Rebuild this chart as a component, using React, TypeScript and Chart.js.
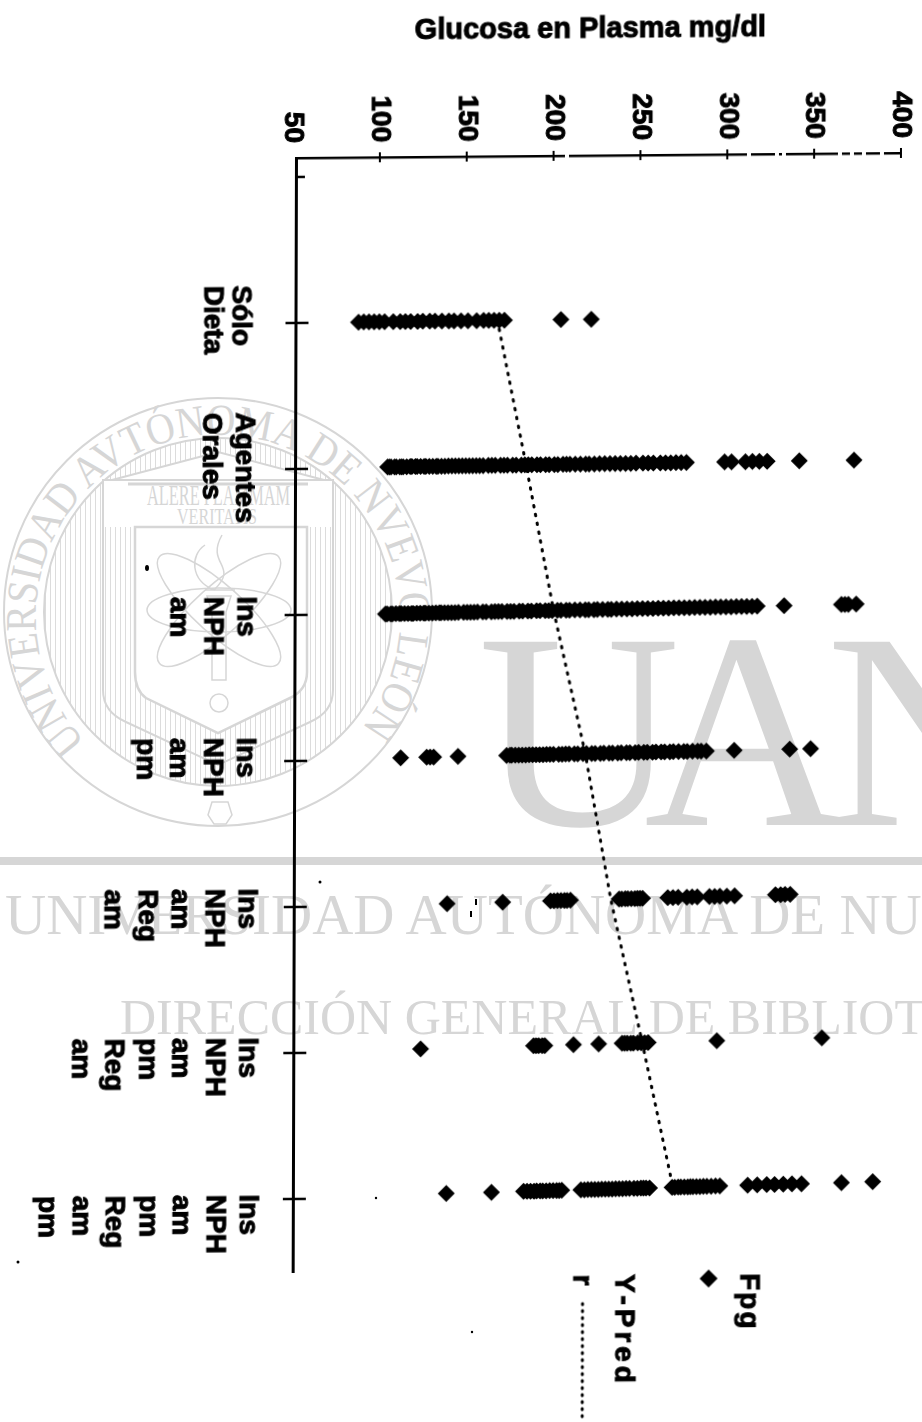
import React, { useEffect, useRef } from "react";
import { Chart, registerables } from "chart.js";

Chart.register(...registerables);

const chartTitle = "Glucosa en Plasma mg/dl";
const xTickValues = [50, 100, 150, 200, 250, 300, 350, 400];
const yTickRows = [-1, 0, 1, 2, 3, 4, 5, 6];

const categories = [
  ["Sólo", "Dieta"],
  ["Agentes", "Orales"],
  ["Ins", "NPH", "am"],
  ["Ins", "NPH", "am", "pm"],
  ["Ins", "NPH", "am", "Reg", "am"],
  ["Ins", "NPH", "am", "pm", "Reg", "am"],
  ["Ins", "NPH", "am", "pm", "Reg", "am", "pm"],
];

const soloDieta = [88, 91, 94, 97, 100, 103, 108, 112, 115, 118, 122, 125, 129, 132, 136, 140, 143, 147, 151, 156, 160, 163, 166, 169, 172, 204.5, 222];
const agentesOrales = [105, 106, 107, 109, 110, 112, 113, 114, 116, 118, 119, 121, 122, 124, 126, 127, 129, 131, 133, 134, 136, 138, 140, 142, 144, 146, 148, 150, 152, 154, 156, 158, 160, 163, 165, 167, 170, 172, 174, 177, 179, 182, 184, 186, 188, 191, 193, 196, 198, 201, 203, 206, 208, 210, 213, 216, 219, 221, 224, 227, 230, 233, 236, 239, 242, 245, 248, 252, 255, 258, 262, 265, 268, 271, 274, 277, 299, 303, 311, 315, 319, 323.5, 342, 373.5];
const nphAm = [104, 105, 107, 108, 110, 112, 113, 115, 117, 119, 120, 122, 124, 126, 127, 129, 131, 133, 135, 136, 138, 140, 142, 144, 146, 149, 151, 153, 155, 157, 160, 162, 165, 167, 169, 171, 174, 176, 178, 181, 183, 186, 188, 191, 193, 196, 198, 200, 203, 205, 208, 210, 213, 216, 219, 221, 224, 226, 229, 232, 234, 237, 240, 243, 246, 249, 252, 255, 258, 261, 264, 267, 270, 273, 276, 279, 282, 285, 288, 291, 294, 297, 300, 303, 306, 309, 312, 315, 318, 333.5, 366.5, 368.5, 370.5, 375];
const nphAmPm = [113, 128, 130, 132, 146, 174, 176, 177, 179, 181, 183, 185, 187, 189, 191, 193, 195, 197, 199, 201, 204, 206, 208, 210, 213, 215, 218, 220, 223, 225, 228, 230, 233, 235, 238, 240, 243, 245, 248, 250, 253, 255, 258, 260, 263, 265, 268, 270, 273, 276, 278, 281, 284, 286, 289, 305, 337, 349];
const nphAmReg = [140, 172, 199.5, 201.5, 203.5, 205.5, 207.5, 209, 211, 239, 240.5, 242.5, 244, 246, 248, 249.5, 251, 252.5, 267, 270, 273, 278, 281, 284, 291, 294, 297, 301, 305.5, 329, 332, 334.5, 337.5];
const nphAmPmReg = [125, 190, 191.5, 193, 195, 196.5, 213, 227.5, 241, 242.5, 244, 246, 247.5, 250, 252, 254, 256, 295.5, 356];
const nphDoble = [140, 166, 184.5, 186.5, 188.5, 190.5, 192, 194, 195.5, 197.5, 199.5, 201.5, 203.5, 205, 206.5, 217.5, 219.5, 221.5, 223.5, 225.5, 227.5, 229.5, 231.5, 233.5, 235.5, 237.5, 239.5, 241.5, 243.5, 245.5, 248, 250, 252, 253.5, 255, 257, 270, 271.5, 273.5, 275, 277, 279, 280.5, 282, 284, 286, 288, 290, 292.5, 295, 297.5, 313.5, 319, 324.5, 329, 334, 339, 344.5, 367.5, 385.5];
const pointRows = [soloDieta, agentesOrales, nphAm, nphAmPm, nphAmReg, nphAmPmReg, nphDoble];

const yPred = [168, 184.7, 200.8, 219.3, 234.2, 252.6, 270.5];

// The scan is tilted: how far each row has drifted upward, read at 100 and at 380 mg/dl.
const rowDriftAt100 = [-0.003, -0.008, -0.001, -0.014, -0.005, -0.014, -0.019];
const rowDriftAt380 = [-0.017, -0.03, -0.043, -0.06, -0.068, -0.08, -0.084];
const labelStartOffset = [-38, -57, -19, -24, -19, -16, -5];
const labelFirstColumn = [241, 245, 247, 247, 249, 250, 251];
const labelColumnGap = [28, 33, 33.5, 33.5, 33.5, 33.5, 33.5];
const axisBreaks = [565, 747, 775, 782, 838, 850, 862, 880];

const legendPoint = "Fpg";
const legendLine = "Y-Pred";
const legendExtra = "r";

const place = (row: number, v: number) =>
  row + rowDriftAt100[row] + ((rowDriftAt380[row] - rowDriftAt100[row]) * (v - 100)) / 280;

const FONT = '"Liberation Sans", Arial, sans-serif';

const textPlugin = {
  id: "scanText",
  afterDraw(chart: any) {
    const { ctx, scales } = chart;
    const x = scales.x;
    const y = scales.y;
    const axisY = chart.chartArea.top;
    const axisX = chart.chartArea.left;
    ctx.save();
    ctx.fillStyle = "#000";
    ctx.strokeStyle = "#000";
    ctx.textBaseline = "middle";

    const heavy = (s: string, tx: number, ty: number) => {
      ctx.lineWidth = 1;
      ctx.strokeText(s, tx, ty);
      ctx.fillText(s, tx, ty);
    };

    // the broken stretches of the scanned value axis
    axisBreaks.forEach((b) => ctx.clearRect(b, axisY - 2, 4, 4));

    // value axis ticks and labels (turned a quarter clockwise)
    xTickValues.forEach((v, i) => {
      const px = x.getPixelForValue(v);
      if (i > 0) {
        ctx.lineWidth = 2;
        ctx.beginPath();
        ctx.moveTo(px, axisY - 5);
        ctx.lineTo(px, axisY + 5);
        ctx.stroke();
      }
      ctx.save();
      ctx.translate(px, 143);
      ctx.rotate(Math.PI / 2);
      ctx.textAlign = "right";
      ctx.font = `bold 28px ${FONT}`;
      heavy(String(v), 0, 0);
      ctx.restore();
    });

    // row ticks
    yTickRows.forEach((r) => {
      const py = y.getPixelForValue(r);
      ctx.lineWidth = 2.5;
      ctx.beginPath();
      ctx.moveTo(r < 0 ? axisX : axisX - 10, py);
      ctx.lineTo(axisX + (r < 0 ? 9 : 13), py);
      ctx.stroke();
    });

    // row labels
    categories.forEach((lines, r) => {
      const py = y.getPixelForValue(r) + labelStartOffset[r];
      lines.forEach((line, k) => {
        ctx.save();
        ctx.translate(labelFirstColumn[r] - labelColumnGap[r] * k, py);
        ctx.rotate(Math.PI / 2);
        ctx.textAlign = "left";
        ctx.font = `bold 28px ${FONT}`;
        heavy(line, 0, 0);
        ctx.restore();
      });
    });

    // title
    ctx.textAlign = "center";
    ctx.font = `bold 29px ${FONT}`;
    heavy(chartTitle, 590, 32);

    // legend
    const turned = (s: string, tx: number, ty: number, spacing: string) => {
      ctx.save();
      ctx.translate(tx, ty);
      ctx.rotate(Math.PI / 2);
      ctx.textAlign = "left";
      ctx.font = `bold 28px ${FONT}`;
      (ctx as any).letterSpacing = spacing;
      heavy(s, 0, 0);
      ctx.restore();
    };
    turned(legendPoint, 752, 1277, "2px");
    turned(legendLine, 627, 1277, "4px");
    turned(legendExtra, 585, 1277, "0px");
    ctx.beginPath();
    ctx.moveTo(712, 1273);
    ctx.lineTo(721, 1282);
    ctx.lineTo(712, 1291);
    ctx.lineTo(703, 1282);
    ctx.closePath();
    ctx.fill();
    ctx.lineWidth = 3;
    ctx.lineCap = "round";
    ctx.setLineDash([1, 6]);
    ctx.beginPath();
    ctx.moveTo(586, 1306);
    ctx.lineTo(586, 1422);
    ctx.stroke();
    ctx.restore();
  },
};

const GREY = "#d6d6d6";

function Watermark() {
  const shieldOuter = "M103 480 H333 V690 Q333 712 310 722 L218 765 L126 722 Q103 712 103 690 Z";
  const shieldInner = "M135 527 H307 V672 Q307 690 290 698 L218 733 L146 698 Q135 690 135 672 Z";
  return (
    <svg width={922} height={1422} style={{ position: "absolute", left: 0, top: 0 }}>
      <defs>
        <pattern id="hatch" width="5" height="5" patternUnits="userSpaceOnUse">
          <rect x="0" y="0" width="1" height="5" fill="#dcdcdc" />
        </pattern>
        <path id="ring" d="M 86 742 A 182 182 0 1 1 350 742" fill="none" />
      </defs>
      <circle cx="218" cy="612" r="214" fill="none" stroke={GREY} strokeWidth="2" />
      <circle cx="218" cy="612" r="174" fill="url(#hatch)" stroke={GREY} strokeWidth="2" />
      <text fontFamily="Liberation Serif" fontSize="44" fill={GREY}>
        <textPath href="#ring" textLength="830" lengthAdjust="spacingAndGlyphs">
          UNIVERSIDAD AVTÓNOMA DE NVEVO LEÓN
        </textPath>
      </text>
      <path d="M112 480 L218 452 L324 480 Z" fill="#fff" stroke={GREY} strokeWidth="2" />
      <path d={shieldOuter} fill="url(#hatch)" stroke={GREY} strokeWidth="2" />
      <rect x="104" y="481" width="228" height="46" fill="#fff" />
      <line x1="128" y1="484" x2="308" y2="484" stroke={GREY} strokeWidth="3" />
      <path d={shieldInner} fill="#fff" stroke={GREY} strokeWidth="2.5" />
      <text x="147" y="505" fontFamily="Liberation Serif" fontSize="30" fill={GREY} textLength="143" lengthAdjust="spacingAndGlyphs">
        ALERE FLAMMAM
      </text>
      <text x="177" y="524" fontFamily="Liberation Serif" fontSize="24" fill={GREY} textLength="80" lengthAdjust="spacingAndGlyphs">
        VERITATIS
      </text>
      <g fill="none" stroke={GREY} strokeWidth="1.5">
        <ellipse cx="219" cy="610" rx="72" ry="22" />
        <ellipse cx="219" cy="610" rx="80" ry="24" transform="rotate(42 219 610)" />
        <ellipse cx="219" cy="610" rx="80" ry="24" transform="rotate(-42 219 610)" />
        <path d="M222 535 C205 565 240 565 214 590 C190 580 190 555 205 545 M205 590 H235" />
        <path d="M207 596 H231 L226 612 V680 H212 V612 Z" />
        <circle cx="219" cy="703" r="9" />
        <path d="M208 815 L212 802 H228 L232 815 L226 824 H214 Z" />
      </g>
      <text x="478 644 826" y="825" fontFamily="Liberation Serif" fontSize="280" fill={GREY}>
        UAN
      </text>
      <rect x="0" y="857" width="922" height="8" fill={GREY} />
      <text x="5" y="934" fontFamily="Liberation Serif" fontSize="57" fill={GREY}>
        UNIVERSIDAD AUTÓNOMA DE NUEVO LEÓN
      </text>
      <text x="120" y="1034" fontFamily="Liberation Serif" fontSize="50" fill={GREY}>
        DIRECCIÓN GENERAL DE BIBLIOTECAS
      </text>
      <g fill="#000">
        <ellipse cx="147" cy="568" rx="2" ry="3" />
        <circle cx="320" cy="882" r="1.5" />
        <rect x="475" y="899" width="2" height="6" />
        <rect x="470" y="911" width="2" height="6" />
        <circle cx="376" cy="1198" r="1.2" />
        <circle cx="18" cy="1262" r="1.5" />
        <circle cx="472" cy="1332" r="1.2" />
      </g>
    </svg>
  );
}

export default function App() {
  const ref = useRef<HTMLCanvasElement | null>(null);
  useEffect(() => {
    if (!ref.current) return;
    const rowSets = pointRows.map((vals, r) => ({
      type: "scatter" as const,
      label: categories[r].join(" "),
      data: vals.map((v) => ({ x: v, y: place(r, v) })),
      pointStyle: "rectRot",
      pointRadius: 8.5,
      backgroundColor: "#000",
      borderColor: "#000",
      borderWidth: 0,
      showLine: false,
      order: 1,
    }));
    const chart = new Chart(ref.current, {
      type: "scatter",
      data: {
        datasets: [
          {
            label: legendLine,
            data: yPred.map((v, r) => ({ x: v, y: place(r, v) })),
            showLine: true,
            borderColor: "#000",
            borderWidth: 3,
            borderDash: [1.5, 7.5],
            borderCapStyle: "round",
            pointRadius: 0,
            order: 2,
          },
          ...rowSets,
        ] as any,
      },
      options: {
        animation: false,
        responsive: false,
        devicePixelRatio: 1,
        layout: { padding: { left: 296, top: 158, right: 21, bottom: 150 } },
        plugins: { legend: { display: false }, title: { display: false }, tooltip: { enabled: false } },
        scales: {
          x: {
            type: "linear",
            position: "top",
            min: 51.7,
            max: 400,
            ticks: { display: false },
            grid: { display: false, drawTicks: false },
            border: { display: true, color: "#000", width: 2.5 },
          },
          y: {
            type: "linear",
            reverse: true,
            min: -1.13,
            max: 6.5,
            ticks: { display: false },
            grid: { display: false, drawTicks: false },
            border: { display: true, color: "#000", width: 3 },
          },
        },
      },
      plugins: [textPlugin],
    } as any);
    return () => chart.destroy();
  }, []);
  return (
    <div style={{ position: "absolute", left: 0, top: 0, width: 922, height: 1422, background: "#fff", overflow: "hidden" }}>
      <Watermark />
      <canvas
        ref={ref}
        width={922}
        height={1422}
        style={{
          position: "absolute",
          left: 0,
          top: 0,
          width: 922,
          height: 1422,
          transformOrigin: "296px 158px",
          transform: "matrix(1,-0.0083,-0.003,1,0,0)",
        }}
      />
    </div>
  );
}
